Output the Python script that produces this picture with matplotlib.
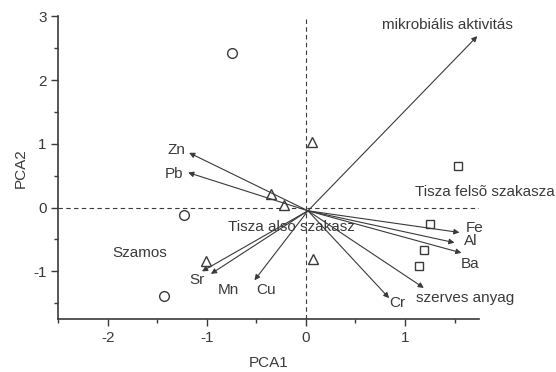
import matplotlib.pyplot as plt
from matplotlib.ticker import MultipleLocator

plt.rcParams['font.family'] = ['Liberation Sans', 'DejaVu Sans']
plt.rcParams['axes.unicode_minus'] = False

# site scores
circle_x = [-0.75, -1.23, -1.43]
circle_y = [2.43, -0.12, -1.38]
tri_x = [0.06, -0.35, -0.22, 0.07, -1.01]
tri_y = [1.03, 0.22, 0.04, -0.80, -0.83]
square_x = [1.54, 1.25, 1.19, 1.14]
square_y = [0.65, -0.26, -0.67, -0.92]

# variable loadings (arrow tips) and label positions
var_names = ['mikrobiális aktivitás', 'Zn', 'Pb', 'Sr', 'Mn', 'Cu', 'Cr',
             'szerves anyag', 'Fe', 'Al', 'Ba']
var_x = [1.73, -1.18, -1.19, -1.05, -0.96, -0.52, 0.84, 1.19, 1.55, 1.50, 1.57]
var_y = [2.69, 0.86, 0.55, -1.00, -1.04, -1.14, -1.42, -1.26, -0.39, -0.55, -0.71]
lab_x = [1.43, -1.31, -1.33, -1.10, -0.78, -0.40, 0.92, 1.61, 1.70, 1.66, 1.66]
lab_y = [2.86, 0.91, 0.53, -1.14, -1.30, -1.30, -1.50, -1.42, -0.32, -0.53, -0.88]
origin = (0.02, -0.05)

# group labels
groups = ['Tisza felsõ szakasza', 'Tisza alsó szakasz', 'Szamos']
group_x = [1.10, -0.79, -1.68]
group_y = [0.25, -0.30, -0.71]
group_ha = ['left', 'left', 'center']

ink = '#3a3a3a'
fs = 11

fig = plt.figure(figsize=(5.56, 3.72), dpi=100)
ax = fig.add_axes([0.105, 0.142, 0.757, 0.814])

ax.axhline(0, color=ink, ls=(0, (4, 3)), lw=0.8)
ax.axvline(0, color=ink, ls=(0, (4, 3)), lw=0.8)

for name, x, y, lx, ly in zip(var_names, var_x, var_y, lab_x, lab_y):
    ax.annotate('', xy=(x, y), xytext=origin,
                arrowprops=dict(arrowstyle='-|>', color=ink, lw=0.8,
                                mutation_scale=8, shrinkA=0, shrinkB=0))
    ax.text(lx, ly, name, ha='center', va='center', fontsize=fs, color=ink)

ax.plot(circle_x, circle_y, 'o', mfc='white', mec=ink, ms=7, mew=1)
ax.plot(tri_x, tri_y, '^', mfc='white', mec=ink, ms=7.5, mew=1)
ax.plot(square_x, square_y, 's', mfc='white', mec=ink, ms=6, mew=1)

for g, x, y, ha in zip(groups, group_x, group_y, group_ha):
    ax.text(x, y, g, ha=ha, va='center', fontsize=fs, color=ink, clip_on=False)

ax.set_xlim(-2.5, 1.75)
ax.set_ylim(-1.75, 3)
ax.xaxis.set_major_locator(MultipleLocator(1))
ax.xaxis.set_minor_locator(MultipleLocator(0.5))
ax.yaxis.set_major_locator(MultipleLocator(1))
ax.yaxis.set_minor_locator(MultipleLocator(0.5))
ax.spines['top'].set_visible(False)
ax.spines['right'].set_visible(False)
for s in ['left', 'bottom']:
    ax.spines[s].set_color(ink)
    ax.spines[s].set_linewidth(1.2)
ax.tick_params(which='major', length=5, width=1, color=ink, labelcolor=ink, labelsize=fs)
ax.tick_params(which='minor', length=3, width=1, color=ink)
ax.set_xlabel('PCA1', fontsize=fs, color=ink, labelpad=8)
ax.set_ylabel('PCA2', fontsize=fs, color=ink, labelpad=4)

fig.savefig('out.png', dpi=100)
